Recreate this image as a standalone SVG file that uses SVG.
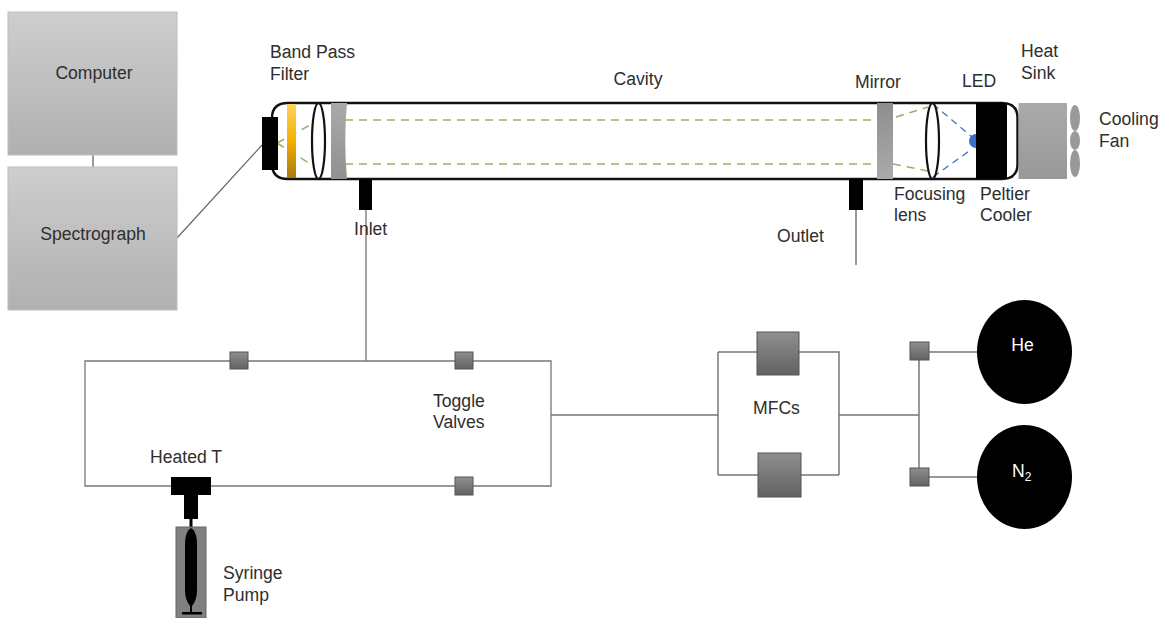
<svg xmlns="http://www.w3.org/2000/svg" width="1158" height="618" viewBox="0 0 1158 618">
<style>
text{font-family:"Liberation Sans",Arial,sans-serif;font-size:17.6px;fill:#2e2e2e}
.ln{fill:none;stroke:#777;stroke-width:1.5}
.thin{fill:none;stroke:#666;stroke-width:1.2}
.tube{fill:none;stroke:#111;stroke-width:2.4}
.lens{fill:none;stroke:#111;stroke-width:2.2}
.gd{fill:none;stroke:#8fb56a;stroke-width:1.6;stroke-dasharray:8 6}
.bd{fill:none;stroke:#4f78c0;stroke-width:1.4;stroke-dasharray:7 5}
.box{fill:url(#lt);stroke:#bdbdbd}
.v{fill:url(#dk);stroke:#555}
.k{fill:#000}
.w{fill:#fff}
</style>
<defs>
<linearGradient id="lt" x1="0" y1="0" x2="0" y2="1"><stop offset="0" stop-color="#cecece"/><stop offset="1" stop-color="#b0b0b0"/></linearGradient>
<linearGradient id="dk" x1="0" y1="0" x2="0" y2="1"><stop offset="0" stop-color="#8f8f8f"/><stop offset="1" stop-color="#626262"/></linearGradient>
<linearGradient id="gr" x1="0" y1="0" x2="0" y2="1"><stop offset="0" stop-color="#aaa"/><stop offset="1" stop-color="#909090"/></linearGradient>
<linearGradient id="gr2" x1="0" y1="0" x2="0" y2="1"><stop offset="0" stop-color="#8e8e8e"/><stop offset="1" stop-color="#aaa"/></linearGradient>
<linearGradient id="sk" x1="0" y1="0" x2="0" y2="1"><stop offset="0" stop-color="#a9aba9"/><stop offset="1" stop-color="#989898"/></linearGradient>
<linearGradient id="am" x1="0" y1="0" x2="0" y2="1"><stop offset="0" stop-color="#ffd25c"/><stop offset=".5" stop-color="#f5b000"/><stop offset="1" stop-color="#a9780f"/></linearGradient>
</defs>
<g id="connectors">
<path class="ln" d="M93 155V167"/>
<path class="thin" d="M177 238L263 144"/>
<path class="thin" d="M366 210V361"/>
<path class="ln" d="M856 210V265"/>
<path class="ln" d="M85 361H551V486H85Z" style="stroke-width:1.3"/>
<path class="ln" d="M551 415H718"/>
<path class="ln" d="M718 352V475M718 352H757M799 352H839V475M718 475H758M801 475H839"/>
<path class="ln" d="M839 415H919"/>
<path class="ln" d="M919 360V468"/>
<path class="ln" d="M929 352H978M929 477H978"/>
</g>
<g id="computer"><rect class="box" x="8" y="12" width="169" height="143"/><text x="94" y="79" text-anchor="middle">Computer</text></g>
<g id="spectrograph"><rect class="box" x="8" y="167" width="169" height="143"/><text x="93" y="240" text-anchor="middle">Spectrograph</text></g>
<g id="cavity">
<path class="tube" d="M272 118Q272 103 288 103H1002Q1017.500 103 1017.500 118V164Q1017.500 179 1002 179H288Q272 179 272 164"/>
<path class="gd" d="M277 143L312 124M277 143L312 165M331 120H877M331 164H877M896 117L928 107M893 164L928 171"/>
<path class="bd" d="M933 104L972 137M933 177L972 149"/>
<rect x="287" y="104" width="9" height="74" fill="url(#am)"/>
<ellipse class="lens" cx="318.500" cy="141" rx="6.500" ry="38"/>
<path d="M331 103H347Q343.500 141 347 179H331Z" fill="url(#gr)"/>
<path d="M877 103H893V179H877Z" fill="url(#gr2)"/>
<ellipse class="lens" cx="932.500" cy="141" rx="6.500" ry="38"/>
<circle cx="976" cy="141" r="7" fill="#3d6fc4"/>
<rect class="k" x="976" y="103" width="31" height="76"/>
<rect class="k" x="262" y="117" width="16" height="53"/>
<rect class="k" x="359" y="179" width="13" height="31"/>
<rect class="k" x="849" y="179" width="14" height="31"/>
<rect x="1018.500" y="103" width="48.500" height="76" fill="url(#sk)"/>
<ellipse cx="1075" cy="118" rx="5" ry="13" fill="#999"/>
<ellipse cx="1075" cy="140.500" rx="5" ry="9.500" fill="#999"/>
<ellipse cx="1075" cy="163.500" rx="5" ry="13.500" fill="#999"/>
</g>
<g id="labels">
<text x="270" y="58">Band Pass</text><text x="270" y="80">Filter</text>
<text x="638" y="85" text-anchor="middle">Cavity</text>
<text x="855" y="88">Mirror</text>
<text x="962" y="87">LED</text>
<text x="1021" y="57">Heat</text><text x="1021" y="79">Sink</text>
<text x="1099" y="125">Cooling</text><text x="1099" y="147">Fan</text>
<text x="894" y="200">Focusing</text><text x="894" y="221">lens</text>
<text x="980" y="200">Peltier</text><text x="980" y="221">Cooler</text>
<text x="354" y="235">Inlet</text>
<text x="777" y="242">Outlet</text>
<text x="433" y="407">Toggle</text><text x="433" y="428">Valves</text>
<text x="753" y="414">MFCs</text>
<text x="150" y="463">Heated T</text>
<text x="223" y="579">Syringe</text><text x="223" y="601">Pump</text>
</g>
<g id="valves">
<rect class="v" x="230" y="352" width="18" height="17"/>
<rect class="v" x="455" y="352" width="18" height="17"/>
<rect class="v" x="455" y="477" width="18" height="18"/>
</g>
<g id="mfc1"><rect class="v" x="757" y="332" width="42" height="43"/></g>
<g id="mfc2"><rect class="v" x="758" y="453" width="43" height="44"/></g>
<g id="valve-he"><rect class="v" x="910" y="342" width="19" height="18"/></g>
<g id="valve-n2"><rect class="v" x="910" y="468" width="19" height="18"/></g>
<g id="he"><ellipse class="k" cx="1024.500" cy="352" rx="47.500" ry="52"/><text class="w" x="1022.500" y="351" text-anchor="middle" style="fill:#fff">He</text></g>
<g id="n2"><ellipse class="k" cx="1024.500" cy="477" rx="47.500" ry="52"/><text class="w" x="1012" y="477" style="fill:#fff">N<tspan dy="4" font-size="12">2</tspan></text></g>
<g id="heated-t"><path class="k" d="M171 477H211V495H198V519H184V495H171Z"/><rect class="k" x="189.500" y="519" width="3" height="9"/></g>
<g id="syringe-pump">
<rect x="176" y="527" width="30" height="91" fill="#808080" stroke="#666"/>
<path class="k" d="M191 528C195 530 197 536 197 545V590Q197 600 192 606H190Q185 600 185 590V545C185 536 187 530 191 528Z"/>
<rect class="k" x="182" y="612" width="20" height="2.500"/><rect class="k" x="190" y="604" width="2" height="9"/>
</g>
</svg>
